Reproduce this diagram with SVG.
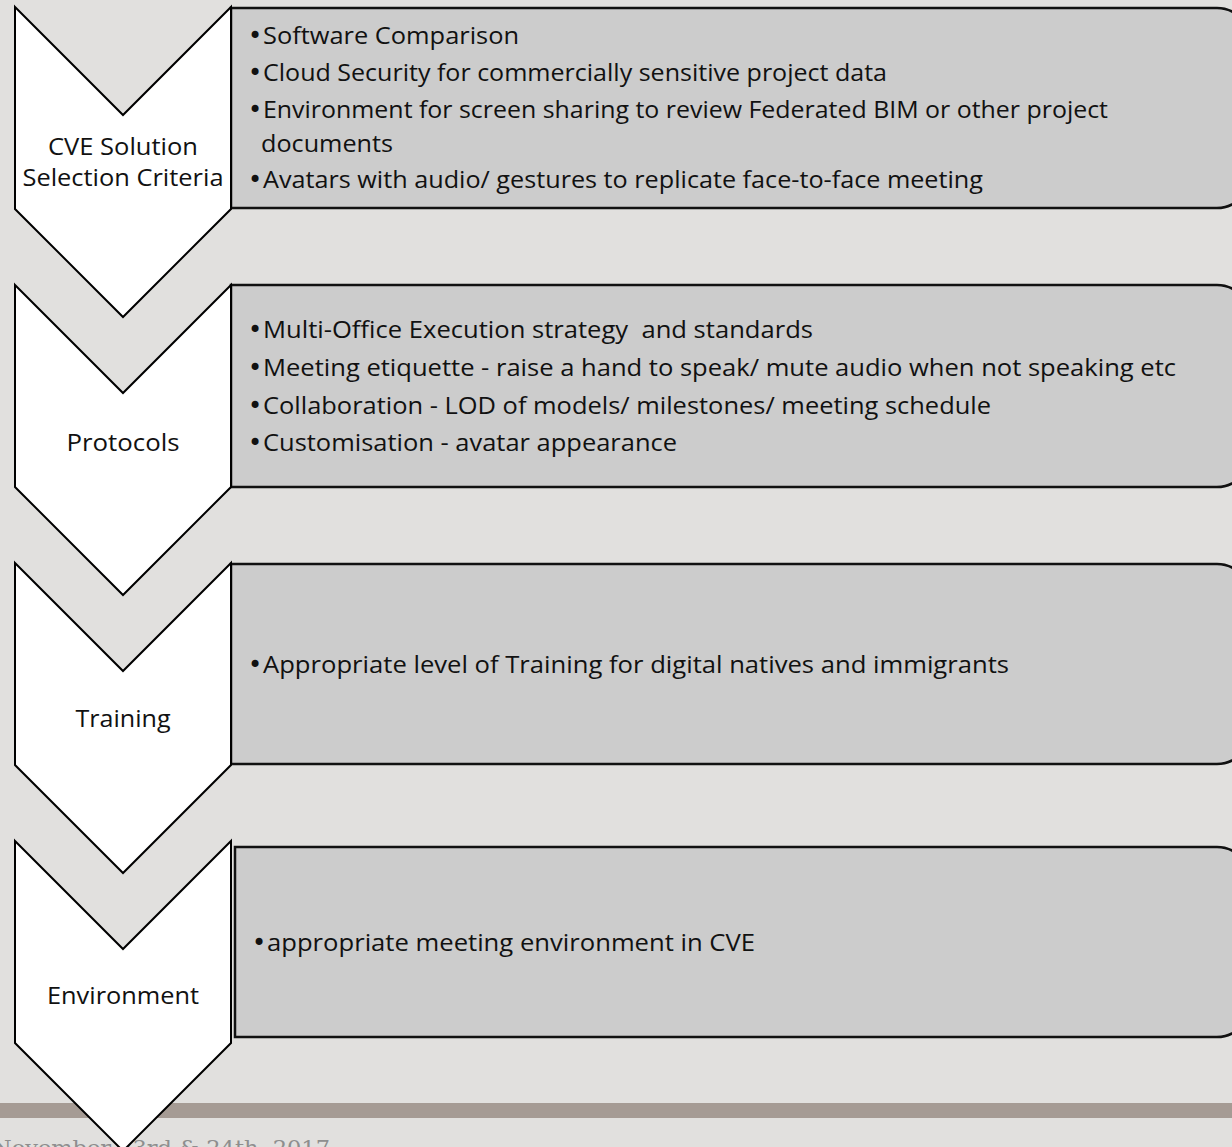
<svg xmlns="http://www.w3.org/2000/svg" width="1232" height="1147" viewBox="0 0 1232 1147">
<style>
.bg{fill:#E1E0DE}
.chev{fill:#FFFFFF;stroke:#000000;stroke-width:2;stroke-linejoin:miter}
.box{fill:#CCCCCC;stroke:#111111;stroke-width:2.5}
text{font-family:"Open Sans","Noto Sans","Liberation Sans",sans-serif;font-size:24px;fill:#111111;white-space:pre}
.b{font-family:"DejaVu Sans",sans-serif;font-size:24px}
.lbl{text-anchor:middle}
.foot{font-family:"DejaVu Serif","Liberation Serif",serif;font-size:21px;fill:#8E8E8E}
</style>
<rect class="bg" x="0" y="0" width="1232" height="1147"/>
<g id="footer">
<rect x="0" y="1103" width="1232" height="15" fill="#A59B94"/>
<text class="foot" x="-8" y="1155" textLength="338" lengthAdjust="spacingAndGlyphs">November 23rd &amp; 24th, 2017</text>
</g>
<g id="box1">
<path class="box" d="M231,8 H1217 A33,33 0 0 1 1250,41 V175 A33,33 0 0 1 1217,208 H231 Z"/>
<text x="248" y="44"><tspan class="b">•</tspan><tspan x="263" textLength="256" lengthAdjust="spacingAndGlyphs">Software Comparison</tspan></text>
<text x="248" y="81"><tspan class="b">•</tspan><tspan x="263" textLength="624" lengthAdjust="spacingAndGlyphs">Cloud Security for commercially sensitive project data</tspan></text>
<text x="248" y="118"><tspan class="b">•</tspan><tspan x="263" textLength="845" lengthAdjust="spacingAndGlyphs">Environment for screen sharing to review Federated BIM or other project</tspan></text>
<text x="261" y="152" textLength="132" lengthAdjust="spacingAndGlyphs">documents</text>
<text x="248" y="188"><tspan class="b">•</tspan><tspan x="263" textLength="720" lengthAdjust="spacingAndGlyphs">Avatars with audio/ gestures to replicate face-to-face meeting</tspan></text>
</g>
<g id="box2">
<path class="box" d="M231,285 H1217 A33,33 0 0 1 1250,318 V454 A33,33 0 0 1 1217,487 H231 Z"/>
<text x="248" y="338"><tspan class="b">•</tspan><tspan x="263" textLength="550" lengthAdjust="spacingAndGlyphs">Multi-Office Execution strategy  and standards</tspan></text>
<text x="248" y="376"><tspan class="b">•</tspan><tspan x="263" textLength="913" lengthAdjust="spacingAndGlyphs">Meeting etiquette - raise a hand to speak/ mute audio when not speaking etc</tspan></text>
<text x="248" y="414"><tspan class="b">•</tspan><tspan x="263" textLength="728" lengthAdjust="spacingAndGlyphs">Collaboration - LOD of models/ milestones/ meeting schedule</tspan></text>
<text x="248" y="451"><tspan class="b">•</tspan><tspan x="263" textLength="414" lengthAdjust="spacingAndGlyphs">Customisation - avatar appearance</tspan></text>
</g>
<g id="box3">
<path class="box" d="M231,564 H1217 A33,33 0 0 1 1250,597 V731 A33,33 0 0 1 1217,764 H231 Z"/>
<text x="248" y="673"><tspan class="b">•</tspan><tspan x="263" textLength="746" lengthAdjust="spacingAndGlyphs">Appropriate level of Training for digital natives and immigrants</tspan></text>
</g>
<g id="box4">
<path class="box" d="M235,847 H1217 A33,33 0 0 1 1250,880 V1004 A33,33 0 0 1 1217,1037 H235 Z"/>
<text x="252" y="951"><tspan class="b">•</tspan><tspan x="267" textLength="488" lengthAdjust="spacingAndGlyphs">appropriate meeting environment in CVE</tspan></text>
</g>
<g id="chevron1">
<polygon class="chev" points="15,7 123,115 231,7 231,209 123,317 15,209"/>
<text class="lbl" x="123" y="155" textLength="150" lengthAdjust="spacingAndGlyphs">CVE Solution</text>
<text class="lbl" x="123" y="186" textLength="201" lengthAdjust="spacingAndGlyphs">Selection Criteria</text>
</g>
<g id="chevron2">
<polygon class="chev" points="15,285 123,393 231,285 231,487 123,595 15,487"/>
<text class="lbl" x="123" y="451" textLength="113" lengthAdjust="spacingAndGlyphs">Protocols</text>
</g>
<g id="chevron3">
<polygon class="chev" points="15,563 123,671 231,563 231,765 123,873 15,765"/>
<text class="lbl" x="123" y="727" textLength="95" lengthAdjust="spacingAndGlyphs">Training</text>
</g>
<g id="chevron4">
<polygon class="chev" points="15,841 123,949 231,841 231,1043 123,1151 15,1043"/>
<text class="lbl" x="123" y="1004" textLength="152" lengthAdjust="spacingAndGlyphs">Environment</text>
</g>
<g id="connectors"/>
</svg>
